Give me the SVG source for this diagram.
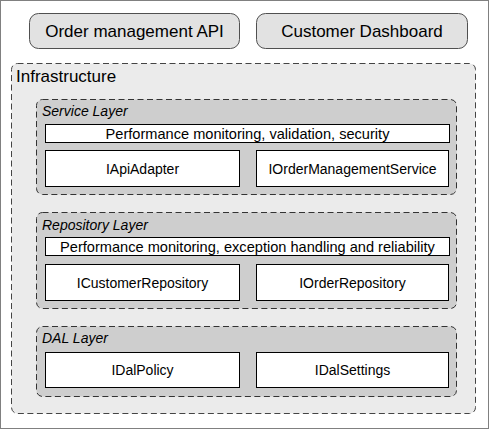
<svg xmlns="http://www.w3.org/2000/svg" width="490" height="430" viewBox="0 0 490 430">
<style>
text{font-family:"Liberation Sans",Arial,sans-serif;fill:#000}
.btn{fill:#e2e2e2;stroke:#505050;stroke-width:1}
.infra{fill:#ebebeb;stroke:#444;stroke-width:1;stroke-dasharray:6,3.5}
.layer{fill:#cecece;stroke:#333;stroke-width:1;stroke-dasharray:6,3.5}
.box{fill:#fff;stroke:#000;stroke-width:1}
.big{font-size:17px}
.lbl{font-size:14px;font-style:italic}
.t{font-size:14px;text-anchor:middle}
.bar{font-size:14.6px;text-anchor:middle}
</style>
<rect x="0.5" y="0.5" width="488" height="428" fill="#fff" stroke="#808080"/>
<g id="order-api">
<rect class="btn" x="29.5" y="13.5" width="210" height="35" rx="9"/>
<text class="big" x="134.5" y="37" text-anchor="middle">Order management API</text>
</g>
<g id="customer-dashboard">
<rect class="btn" x="256.5" y="13.5" width="211" height="35" rx="9"/>
<text class="big" x="362" y="37" text-anchor="middle">Customer Dashboard</text>
</g>
<g id="infrastructure">
<rect class="infra" x="11.5" y="63.5" width="464" height="350" rx="6"/>
<text class="big" x="16" y="82">Infrastructure</text>
</g>
<g id="service-layer">
<rect class="layer" x="36.5" y="99.5" width="420" height="95" rx="6"/>
<text class="lbl" x="42" y="116">Service Layer</text>
<rect class="box" x="45.5" y="124.5" width="404" height="18"/>
<text class="bar" x="247.5" y="138.5">Performance monitoring, validation, security</text>
</g>
<g id="iapiadapter">
<rect class="box" x="45.5" y="150.5" width="194" height="36"/>
<text class="t" x="142.5" y="173.5">IApiAdapter</text>
</g>
<g id="iordermanagementservice">
<rect class="box" x="256.5" y="150.5" width="192" height="36"/>
<text class="t" x="352.5" y="173.5">IOrderManagementService</text>
</g>
<g id="repository-layer">
<rect class="layer" x="36.5" y="212.5" width="420" height="96" rx="6"/>
<text class="lbl" x="42" y="229.5">Repository Layer</text>
<rect class="box" x="45.5" y="237.5" width="404" height="18"/>
<text class="bar" x="247.5" y="251.5">Performance monitoring, exception handling and reliability</text>
</g>
<g id="icustomerrepository">
<rect class="box" x="45.5" y="264.5" width="194" height="36"/>
<text class="t" x="142.5" y="287.5">ICustomerRepository</text>
</g>
<g id="iorderrepository">
<rect class="box" x="256.5" y="264.5" width="192" height="36"/>
<text class="t" x="352.5" y="287.5">IOrderRepository</text>
</g>
<g id="dal-layer">
<rect class="layer" x="36.5" y="326.5" width="420" height="70" rx="6"/>
<text class="lbl" x="42" y="343">DAL Layer</text>
</g>
<g id="idalpolicy">
<rect class="box" x="45.5" y="352.5" width="194" height="35"/>
<text class="t" x="142.5" y="375">IDalPolicy</text>
</g>
<g id="idalsettings">
<rect class="box" x="256.5" y="352.5" width="192" height="35"/>
<text class="t" x="352.5" y="375">IDalSettings</text>
</g>
<g id="connectors"></g>
</svg>
